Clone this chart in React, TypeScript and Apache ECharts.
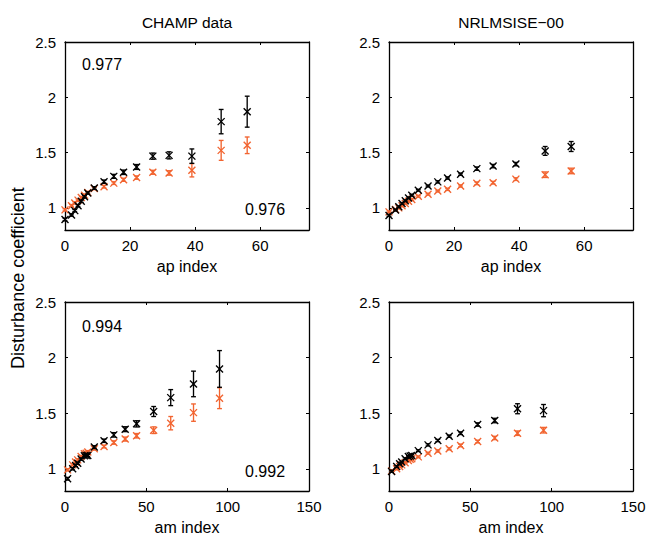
import React, { useEffect, useRef } from "react";
import * as echarts from "echarts";

// ---- data ----
const apIndex = [0, 2, 3, 4, 5, 6, 7, 9, 12, 15, 18, 22, 27, 32, 39, 48, 56];
const amIndex = [1.6, 4.7, 6.5, 7.8, 9.9, 11.9, 13, 14, 18, 24, 30, 37, 44, 54.5, 65, 79, 95];

const champApBlack = [0.895, 0.935, 0.975, 1.02, 1.06, 1.1, 1.135, 1.18, 1.237, 1.285, 1.322, 1.37, 1.468, 1.475, 1.468, 1.78, 1.87];
const champApBlackErr = [0.012, 0.01, 0.01, 0.01, 0.01, 0.01, 0.01, 0.012, 0.015, 0.018, 0.02, 0.022, 0.028, 0.032, 0.065, 0.11, 0.14];
const champApOrange = [0.982, 1.02, 1.045, 1.07, 1.094, 1.115, 1.14, 1.175, 1.192, 1.224, 1.254, 1.274, 1.322, 1.316, 1.34, 1.52, 1.566];
const champApOrangeErr = [0.01, 0.01, 0.01, 0.01, 0.01, 0.01, 0.01, 0.01, 0.012, 0.012, 0.014, 0.015, 0.018, 0.02, 0.06, 0.09, 0.075];

const msisApBlack = [0.932, 0.98, 1.01, 1.04, 1.065, 1.09, 1.115, 1.16, 1.198, 1.235, 1.27, 1.305, 1.355, 1.378, 1.396, 1.515, 1.555];
const msisApBlackErr = [0.008, 0.008, 0.008, 0.008, 0.008, 0.008, 0.008, 0.008, 0.008, 0.01, 0.01, 0.01, 0.015, 0.015, 0.015, 0.04, 0.045];
const msisApOrange = [0.964, 0.985, 1.0, 1.02, 1.04, 1.06, 1.075, 1.105, 1.124, 1.152, 1.168, 1.198, 1.222, 1.228, 1.26, 1.3, 1.334];
const msisApOrangeErr = [0.008, 0.008, 0.008, 0.008, 0.008, 0.008, 0.008, 0.008, 0.008, 0.008, 0.01, 0.01, 0.012, 0.012, 0.012, 0.025, 0.025];

const champAmBlack = [0.91, 1.0, 1.03, 1.05, 1.087, 1.117, 1.12, 1.12, 1.195, 1.252, 1.305, 1.356, 1.404, 1.515, 1.64, 1.763, 1.898];
const champAmBlackErr = [0.012, 0.01, 0.01, 0.01, 0.01, 0.01, 0.01, 0.01, 0.012, 0.015, 0.02, 0.022, 0.028, 0.045, 0.072, 0.115, 0.165];
const champAmOrange = [0.99, 1.035, 1.06, 1.08, 1.11, 1.135, 1.14, 1.15, 1.18, 1.2, 1.236, 1.267, 1.297, 1.347, 1.41, 1.505, 1.635];
const champAmOrangeErr = [0.01, 0.01, 0.01, 0.01, 0.01, 0.01, 0.01, 0.01, 0.012, 0.012, 0.015, 0.018, 0.02, 0.03, 0.06, 0.078, 0.094];

const msisAmBlack = [0.976, 1.02, 1.045, 1.06, 1.09, 1.11, 1.115, 1.12, 1.163, 1.215, 1.254, 1.293, 1.32, 1.398, 1.434, 1.54, 1.523];
const msisAmBlackErr = [0.008, 0.008, 0.008, 0.008, 0.008, 0.008, 0.008, 0.008, 0.008, 0.01, 0.01, 0.01, 0.012, 0.015, 0.02, 0.045, 0.055];
const msisAmOrange = [0.979, 1.0, 1.02, 1.035, 1.055, 1.075, 1.085, 1.09, 1.107, 1.14, 1.16, 1.18, 1.21, 1.245, 1.277, 1.32, 1.347];
const msisAmOrangeErr = [0.008, 0.008, 0.008, 0.008, 0.008, 0.008, 0.008, 0.008, 0.008, 0.008, 0.01, 0.01, 0.012, 0.012, 0.015, 0.02, 0.025];

const yTicks = [1, 1.5, 2, 2.5];
const apTicks = [0, 20, 40, 60];
const amTicks = [0, 50, 100, 150];

const panelTitles = ["CHAMP data", "NRLMSISE\u221200"];
const corrTop = ["0.977", "0.994"];
const corrBottom = ["0.976", "0.992"];

const BLACK = "#000000";
const ORANGE = "#f26430";
const FONT = "Liberation Sans, Arial, Helvetica, sans-serif";

function renderErr(params: any, api: any) {
  const x = api.value(0);
  const y = api.value(1);
  const e = api.value(2);
  const c = api.coord([x, y]);
  const t = api.coord([x, y + e]);
  const b = api.coord([x, y - e]);
  const color = api.visual("color");
  const s = 3.5;
  const cap = 2.4;
  const style = { stroke: color, lineWidth: 1.35, fill: null };
  const children: any[] = [
    { type: "line", shape: { x1: c[0] - s, y1: c[1] - s, x2: c[0] + s, y2: c[1] + s }, style },
    { type: "line", shape: { x1: c[0] - s, y1: c[1] + s, x2: c[0] + s, y2: c[1] - s }, style },
    { type: "line", shape: { x1: c[0], y1: t[1], x2: c[0], y2: b[1] }, style },
    { type: "line", shape: { x1: c[0] - cap, y1: t[1], x2: c[0] + cap, y2: t[1] }, style },
    { type: "line", shape: { x1: c[0] - cap, y1: b[1], x2: c[0] + cap, y2: b[1] }, style },
  ];
  return { type: "group", children };
}

export default function App() {
  const ref = useRef<HTMLDivElement>(null);
  useEffect(() => {
    document.body.style.margin = "0";
    if (!ref.current) return;
    const chart = echarts.init(ref.current, null, { renderer: "svg" });

    const grids = [
      { left: 65, top: 42, width: 244, height: 188 },
      { left: 389, top: 42, width: 244, height: 188 },
      { left: 65, top: 302, width: 244, height: 189 },
      { left: 389, top: 302, width: 244, height: 189 },
    ];
    const xMax = [75, 75, 150, 150];
    const xTicks = [apTicks, apTicks, amTicks, amTicks];

    const axisLine = { show: true, onZero: false, lineStyle: { color: "#000", width: 1.3 } };
    const tickStyle = { color: "#000", width: 1 };
    const xAxis: any[] = [];
    const yAxis: any[] = [];
    for (let g = 0; g < 4; g++) {
      xAxis.push({
        type: "value", gridIndex: g, position: "bottom", min: 0, max: xMax[g],
        axisLine, splitLine: { show: false },
        axisTick: { show: true, inside: true, length: 3, customValues: xTicks[g], lineStyle: tickStyle },
        axisLabel: { show: true, customValues: xTicks[g], color: "#000", fontSize: 15, fontFamily: FONT, margin: 8 },
      });
      xAxis.push({
        type: "value", gridIndex: g, position: "top", min: 0, max: xMax[g],
        axisLine, splitLine: { show: false },
        axisTick: { show: true, inside: true, length: 3, customValues: xTicks[g], lineStyle: tickStyle },
        axisLabel: { show: false },
      });
      yAxis.push({
        type: "value", gridIndex: g, position: "left", min: 0.8, max: 2.5,
        axisLine, splitLine: { show: false },
        axisTick: { show: true, inside: true, length: 3, customValues: yTicks, lineStyle: tickStyle },
        axisLabel: { show: true, customValues: yTicks, color: "#000", fontSize: 15, fontFamily: FONT, margin: 9, formatter: (v: number) => String(v) },
      });
      yAxis.push({
        type: "value", gridIndex: g, position: "right", min: 0.8, max: 2.5,
        axisLine, splitLine: { show: false },
        axisTick: { show: true, inside: true, length: 3, customValues: yTicks, lineStyle: tickStyle },
        axisLabel: { show: false },
      });
    }

    const panels = [
      { x: apIndex, b: champApBlack, be: champApBlackErr, o: champApOrange, oe: champApOrangeErr },
      { x: apIndex, b: msisApBlack, be: msisApBlackErr, o: msisApOrange, oe: msisApOrangeErr },
      { x: amIndex, b: champAmBlack, be: champAmBlackErr, o: champAmOrange, oe: champAmOrangeErr },
      { x: amIndex, b: msisAmBlack, be: msisAmBlackErr, o: msisAmOrange, oe: msisAmOrangeErr },
    ];
    const series: any[] = [];
    panels.forEach((p, g) => {
      series.push({
        type: "custom", coordinateSystem: "cartesian2d", xAxisIndex: g * 2, yAxisIndex: g * 2,
        renderItem: renderErr, itemStyle: { color: ORANGE }, encode: { x: 0, y: 1 },
        data: p.x.map((v, i) => [v, p.o[i], p.oe[i]]), z: 2,
      });
      series.push({
        type: "custom", coordinateSystem: "cartesian2d", xAxisIndex: g * 2, yAxisIndex: g * 2,
        renderItem: renderErr, itemStyle: { color: BLACK }, encode: { x: 0, y: 1 },
        data: p.x.map((v, i) => [v, p.b[i], p.be[i]]), z: 3,
      });
    });

    const txt = (text: string, x: number, y: number, size: number, align = "center", rotation = 0) => ({
      type: "text", x, y, rotation,
      style: { text, fill: "#000", font: `${size}px ${FONT}`, textAlign: align, textVerticalAlign: "middle" },
    });

    const graphic: any[] = [
      txt(panelTitles[0], 187, 22, 15.5),
      txt(panelTitles[1], 511, 22, 15.5),
      txt("ap index", 187, 266, 16),
      txt("ap index", 511, 266, 16),
      txt("am index", 187, 527, 16),
      txt("am index", 511, 527, 16),
      txt("Disturbance coefficient", 18, 278, 18, "center", Math.PI / 2),
      txt(corrTop[0], 82, 64, 16, "left"),
      txt(corrBottom[0], 245, 209, 16, "left"),
      txt(corrTop[1], 82, 326, 16, "left"),
      txt(corrBottom[1], 245, 471, 16, "left"),
    ];

    chart.setOption({
      animation: false,
      backgroundColor: "#ffffff",
      grid: grids,
      xAxis,
      yAxis,
      series,
      graphic,
    });
    return () => chart.dispose();
  }, []);
  return <div ref={ref} style={{ width: 650, height: 534 }} />;
}
